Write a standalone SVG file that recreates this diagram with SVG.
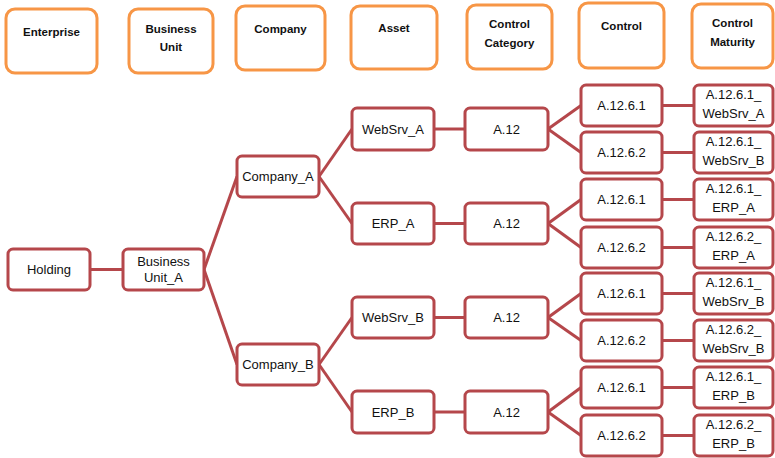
<svg xmlns="http://www.w3.org/2000/svg" width="775" height="458" viewBox="0 0 775 458">
<style>
.h rect{fill:#fff;stroke:#F79646;stroke-width:3}
.h text{font-family:"Liberation Sans",Arial,sans-serif;font-size:11.5px;font-weight:bold;fill:#111;text-anchor:middle}
.n rect{fill:#fff;stroke:#B5474B;stroke-width:3}
.n text{font-family:"Liberation Sans",Arial,sans-serif;font-size:13px;fill:#111;text-anchor:middle}
#connectors line{stroke:#B5474B;stroke-width:3}
</style>
<rect width="775" height="458" fill="#fff"/>
<g id="connectors">
<line x1="90" y1="269.5" x2="123" y2="269.5"/>
<line x1="204" y1="269.5" x2="237" y2="176.5"/>
<line x1="204" y1="269.5" x2="237" y2="364.5"/>
<line x1="319" y1="176.5" x2="352" y2="129"/>
<line x1="319" y1="176.5" x2="352" y2="223.5"/>
<line x1="319" y1="364.5" x2="352" y2="317.5"/>
<line x1="319" y1="364.5" x2="352" y2="412"/>
<line x1="434" y1="129" x2="465" y2="129"/>
<line x1="434" y1="223.5" x2="465" y2="223.5"/>
<line x1="434" y1="317.5" x2="465" y2="317.5"/>
<line x1="434" y1="412" x2="465" y2="412"/>
<line x1="548" y1="129" x2="581" y2="105.5"/>
<line x1="548" y1="129" x2="581" y2="152.5"/>
<line x1="548" y1="223.5" x2="581" y2="199.5"/>
<line x1="548" y1="223.5" x2="581" y2="247.5"/>
<line x1="548" y1="317.5" x2="581" y2="293.5"/>
<line x1="548" y1="317.5" x2="581" y2="340.5"/>
<line x1="548" y1="412" x2="581" y2="387.5"/>
<line x1="548" y1="412" x2="581" y2="435.5"/>
<line x1="662" y1="105.5" x2="694" y2="105.5"/>
<line x1="662" y1="152.5" x2="694" y2="152.5"/>
<line x1="662" y1="199.5" x2="694" y2="199.5"/>
<line x1="662" y1="247.5" x2="694" y2="247.5"/>
<line x1="662" y1="293.5" x2="694" y2="293.5"/>
<line x1="662" y1="340.5" x2="694" y2="340.5"/>
<line x1="662" y1="387.5" x2="694" y2="387.5"/>
<line x1="662" y1="435.5" x2="694" y2="435.5"/>
</g>
<g id="hdr-enterprise" class="h"><rect x="6" y="9" width="91" height="64" rx="9"/><text x="51.5" y="36">Enterprise</text></g>
<g id="hdr-bu" class="h"><rect x="129" y="9" width="84" height="64" rx="9"/><text x="171" y="33">Business</text><text x="171" y="51">Unit</text></g>
<g id="hdr-company" class="h"><rect x="236" y="6" width="89" height="64" rx="9"/><text x="280.5" y="33">Company</text></g>
<g id="hdr-asset" class="h"><rect x="351" y="6" width="86" height="63" rx="9"/><text x="394" y="32">Asset</text></g>
<g id="hdr-category" class="h"><rect x="467" y="5" width="85" height="64" rx="9"/><text x="509.5" y="28">Control</text><text x="509.5" y="47">Category</text></g>
<g id="hdr-control" class="h"><rect x="579" y="3" width="85" height="65" rx="9"/><text x="621.5" y="30">Control</text></g>
<g id="hdr-maturity" class="h"><rect x="692" y="4" width="81" height="64" rx="9"/><text x="732.5" y="27">Control</text><text x="732.5" y="46">Maturity</text></g>

<g id="holding" class="n"><rect x="8" y="249" width="82" height="41" rx="5"/><text x="49" y="274">Holding</text></g>
<g id="bu-a" class="n"><rect x="123" y="249" width="81" height="41" rx="5"/><text x="163.5" y="266">Business</text><text x="163.5" y="282">Unit_A</text></g>
<g id="company-a" class="n"><rect x="237" y="156" width="82" height="41" rx="5"/><text x="278" y="181">Company_A</text></g>
<g id="company-b" class="n"><rect x="237" y="344" width="82" height="41" rx="5"/><text x="278" y="369">Company_B</text></g>
<g id="websrv-a" class="n"><rect x="352" y="108" width="82" height="42" rx="5"/><text x="393" y="133.5">WebSrv_A</text></g>
<g id="erp-a" class="n"><rect x="352" y="203" width="82" height="41" rx="5"/><text x="393" y="228">ERP_A</text></g>
<g id="websrv-b" class="n"><rect x="352" y="297" width="82" height="41" rx="5"/><text x="393" y="322">WebSrv_B</text></g>
<g id="erp-b" class="n"><rect x="352" y="391" width="82" height="42" rx="5"/><text x="393" y="416.5">ERP_B</text></g>
<g id="cat-1" class="n"><rect x="465" y="108" width="83" height="42" rx="5"/><text x="506.5" y="133.5">A.12</text></g>
<g id="cat-2" class="n"><rect x="465" y="203" width="83" height="41" rx="5"/><text x="506.5" y="228">A.12</text></g>
<g id="cat-3" class="n"><rect x="465" y="297" width="83" height="41" rx="5"/><text x="506.5" y="322">A.12</text></g>
<g id="cat-4" class="n"><rect x="465" y="391" width="83" height="42" rx="5"/><text x="506.5" y="416.5">A.12</text></g>
<g id="ctl-1" class="n"><rect x="581" y="85" width="81" height="41" rx="5"/><text x="621.5" y="110">A.12.6.1</text></g>
<g id="ctl-2" class="n"><rect x="581" y="132" width="81" height="41" rx="5"/><text x="621.5" y="157">A.12.6.2</text></g>
<g id="ctl-3" class="n"><rect x="581" y="179" width="81" height="41" rx="5"/><text x="621.5" y="204">A.12.6.1</text></g>
<g id="ctl-4" class="n"><rect x="581" y="227" width="81" height="41" rx="5"/><text x="621.5" y="252">A.12.6.2</text></g>
<g id="ctl-5" class="n"><rect x="581" y="273" width="81" height="41" rx="5"/><text x="621.5" y="298">A.12.6.1</text></g>
<g id="ctl-6" class="n"><rect x="581" y="320" width="81" height="41" rx="5"/><text x="621.5" y="345">A.12.6.2</text></g>
<g id="ctl-7" class="n"><rect x="581" y="367" width="81" height="41" rx="5"/><text x="621.5" y="392">A.12.6.1</text></g>
<g id="ctl-8" class="n"><rect x="581" y="415" width="81" height="41" rx="5"/><text x="621.5" y="440">A.12.6.2</text></g>
<g id="mat-1" class="n"><rect x="694" y="85" width="79" height="41" rx="5"/><text x="733.5" y="99">A.12.6.1_</text><text x="733.5" y="118">WebSrv_A</text></g>
<g id="mat-2" class="n"><rect x="694" y="132" width="79" height="41" rx="5"/><text x="733.5" y="146">A.12.6.1_</text><text x="733.5" y="165">WebSrv_B</text></g>
<g id="mat-3" class="n"><rect x="694" y="179" width="79" height="41" rx="5"/><text x="733.5" y="193">A.12.6.1_</text><text x="733.5" y="212">ERP_A</text></g>
<g id="mat-4" class="n"><rect x="694" y="227" width="79" height="41" rx="5"/><text x="733.5" y="241">A.12.6.2_</text><text x="733.5" y="260">ERP_A</text></g>
<g id="mat-5" class="n"><rect x="694" y="273" width="79" height="41" rx="5"/><text x="733.5" y="287">A.12.6.1_</text><text x="733.5" y="306">WebSrv_B</text></g>
<g id="mat-6" class="n"><rect x="694" y="320" width="79" height="41" rx="5"/><text x="733.5" y="334">A.12.6.2_</text><text x="733.5" y="353">WebSrv_B</text></g>
<g id="mat-7" class="n"><rect x="694" y="367" width="79" height="41" rx="5"/><text x="733.5" y="381">A.12.6.1_</text><text x="733.5" y="400">ERP_B</text></g>
<g id="mat-8" class="n"><rect x="694" y="415" width="79" height="41" rx="5"/><text x="733.5" y="429">A.12.6.2_</text><text x="733.5" y="448">ERP_B</text></g>
</svg>
